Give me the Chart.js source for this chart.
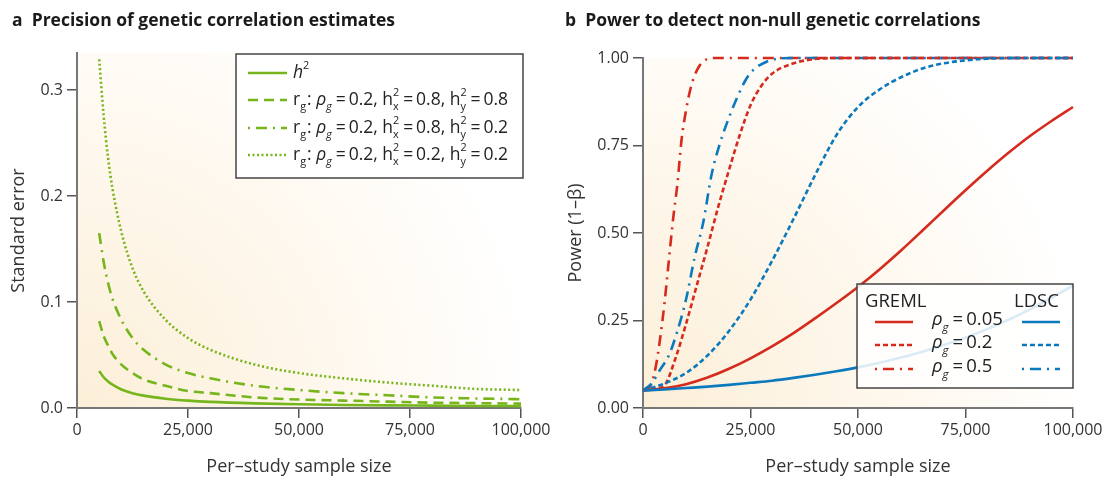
<!DOCTYPE html>
<html>
<head>
<meta charset="utf-8">
<script src="https://cdn.jsdelivr.net/npm/chart.js@4/dist/chart.umd.min.js"></script>
<style>
  body { margin: 0; background: #fff; width: 1108px; height: 478px; position: relative; overflow: hidden; }
  .panel { position: absolute; top: 0; width: 554px; height: 478px; }
  .title { position: absolute; top: 7px; font: bold 17.5px "Open Sans", sans-serif; color: #1a1a1a; white-space: pre; }
</style>
</head>
<body>
<div class="panel" style="left:0"><canvas id="chartA" width="554" height="478"></canvas></div>
<div class="panel" style="left:554px"><canvas id="chartB" width="554" height="478"></canvas></div>
<div class="title" style="left:12px">a  Precision of genetic correlation estimates</div>
<div class="title" style="left:565px">b  Power to detect non-null genetic correlations</div>
<script>
const FONT = '"Open Sans", sans-serif';

// panel a: standard error vs per-study sample size
const sampleSizeA = [5000, 6000, 7000, 8000, 10000, 12500, 15000, 20000, 25000, 30000, 40000, 50000, 60000, 70000, 80000, 90000, 100000];
const seH2 =        [0.035, 0.029, 0.025, 0.022, 0.0175, 0.014, 0.0117, 0.0088, 0.007, 0.0058, 0.0044, 0.0035, 0.0029, 0.0025, 0.0022, 0.0019, 0.0018];
const seRg88 =      [0.082, 0.068, 0.059, 0.051, 0.041, 0.033, 0.027, 0.021, 0.016, 0.014, 0.010, 0.008, 0.007, 0.006, 0.005, 0.0046, 0.0041];
const seRg82 =      [0.165, 0.138, 0.118, 0.103, 0.083, 0.066, 0.055, 0.041, 0.033, 0.028, 0.021, 0.017, 0.014, 0.012, 0.010, 0.009, 0.0083];
const seRg22 =      [0.329, 0.276, 0.236, 0.207, 0.166, 0.132, 0.110, 0.083, 0.066, 0.055, 0.041, 0.033, 0.028, 0.024, 0.021, 0.018, 0.017];
const yTicksA = [0, 0.1, 0.2, 0.3];

// panel b: power vs per-study sample size
const nSlow = [0, 5000, 10000, 15000, 20000, 25000, 30000, 35000, 40000, 45000, 50000, 55000, 60000, 65000, 70000, 75000, 80000, 85000, 90000, 95000, 100000];
const powGreml005 = [0.05, 0.056, 0.068, 0.087, 0.112, 0.142, 0.176, 0.214, 0.256, 0.3, 0.346, 0.396, 0.45, 0.507, 0.565, 0.622, 0.677, 0.729, 0.777, 0.82, 0.86];
const powLdsc005 =  [0.05, 0.053, 0.057, 0.061, 0.066, 0.072, 0.078, 0.086, 0.095, 0.105, 0.116, 0.129, 0.144, 0.161, 0.18, 0.201, 0.225, 0.252, 0.282, 0.315, 0.35];
const nGreml02 = [0, 2500, 5000, 7500, 10000, 12500, 15000, 17500, 20000, 22500, 25000, 27500, 30000, 35000, 40000, 45000, 100000];
const powGreml02 = [0.05, 0.055, 0.065, 0.14, 0.24, 0.35, 0.46, 0.575, 0.68, 0.78, 0.865, 0.92, 0.955, 0.985, 0.997, 1.0, 1.0];
const nGreml05 = [0, 2000, 3000, 4000, 5000, 6000, 7000, 8000, 9000, 10000, 11000, 12000, 13000, 14000, 16000, 100000];
const powGreml05 = [0.05, 0.07, 0.12, 0.2, 0.3, 0.42, 0.54, 0.64, 0.77, 0.85, 0.91, 0.95, 0.975, 0.99, 1.0, 1.0];
const nLdsc02 = [0, 5000, 10000, 15000, 20000, 25000, 30000, 35000, 40000, 45000, 50000, 55000, 60000, 65000, 70000, 75000, 80000, 90000, 100000];
const powLdsc02 = [0.05, 0.07, 0.1, 0.15, 0.22, 0.31, 0.42, 0.54, 0.665, 0.78, 0.86, 0.91, 0.945, 0.97, 0.985, 0.993, 0.998, 1.0, 1.0];
const nLdsc05 = [0, 2000, 4000, 6000, 8000, 10000, 12000, 14000, 16000, 18000, 20000, 22000, 24000, 26000, 28000, 30000, 35000, 100000];
const powLdsc05 = [0.05, 0.07, 0.11, 0.15, 0.22, 0.31, 0.43, 0.53, 0.67, 0.76, 0.83, 0.89, 0.94, 0.97, 0.985, 0.995, 1.0, 1.0];
const yTicksB = [0, 0.25, 0.5, 0.75, 1.0];
const xTicks = [0, 25000, 50000, 75000, 100000];

const GREEN = '#76b51b', RED = '#d52b1e', BLUE = '#0b79bd';

const pts = (xs, ys) => xs.map((x, i) => ({ x, y: ys[i] }));

function line(label, xs, ys, color, dash) {
  return {
    label, data: pts(xs, ys), borderColor: color, borderWidth: 2.6, borderDash: dash,
    pointRadius: 0, fill: false, cubicInterpolationMode: 'monotone', clip: false
  };
}

// text with sub/superscripts
function drawRich(ctx, x, y, parts, size) {
  ctx.textBaseline = 'middle';
  ctx.textAlign = 'left';
  for (const p of parts) {
    const it = p.it ? 'italic ' : '';
    if (p.t !== undefined) {
      ctx.font = `${it}${size}px ${FONT}`;
      ctx.fillText(p.t, x, y);
      x += ctx.measureText(p.t).width;
    } else {
      ctx.font = `${it}${size * 0.62}px ${FONT}`;
      let w = 0;
      if (p.sup) { ctx.fillText(p.sup, x, y - size * 0.38); w = Math.max(w, ctx.measureText(p.sup).width); }
      if (p.sub) { ctx.fillText(p.sub, x, y + size * 0.4); w = Math.max(w, ctx.measureText(p.sub).width); }
      x += w + 1;
    }
  }
}

function sample(ctx, x1, x2, y, color, dash) {
  ctx.save();
  ctx.strokeStyle = color;
  ctx.lineWidth = 2.6;
  ctx.setLineDash(dash || []);
  ctx.beginPath();
  ctx.moveTo(x1, y);
  ctx.lineTo(x2, y);
  ctx.stroke();
  ctx.restore();
}

const bgPlugin = {
  id: 'bg',
  beforeDraw(chart) {
    const { ctx, chartArea: { left, top, right, bottom } } = chart;
    const g = ctx.createRadialGradient(left, bottom, 0, left, bottom, Math.hypot(right - left, bottom - top) * 0.95);
    g.addColorStop(0, '#fcefd8');
    g.addColorStop(0.45, '#fef7ec');
    g.addColorStop(0.85, '#ffffff');
    ctx.save();
    ctx.fillStyle = g;
    ctx.fillRect(left, top, right - left, bottom - top);
    ctx.restore();
  }
};

const eq = '\u2009=\u2009';
const rgRow = (hx, hy) => [
  { t: 'r' }, { sub: 'g' }, { t: ': ' }, { t: 'ρ', it: true }, { sub: 'g', it: true },
  { t: eq + '0.2, h' }, { sup: '2', sub: 'x' }, { t: eq + hx + ', h' }, { sup: '2', sub: 'y' }, { t: eq + hy }
];

const legendA = {
  id: 'legendA',
  afterDraw(chart) {
    const ctx = chart.ctx;
    ctx.save();
    ctx.fillStyle = '#fff';
    ctx.strokeStyle = '#444';
    ctx.lineWidth = 1.5;
    ctx.fillRect(236, 54, 287, 124);
    ctx.strokeRect(236, 54, 287, 124);
    const rows = [
      { y: 73, dash: [], parts: [{ t: 'h', it: true }, { sup: '2' }] },
      { y: 100, dash: [10, 6], parts: rgRow('0.8', '0.8') },
      { y: 128, dash: [2, 6, 11, 6], parts: rgRow('0.8', '0.2') },
      { y: 155, dash: [2, 2.5], parts: rgRow('0.2', '0.2') }
    ];
    ctx.fillStyle = '#222';
    for (const r of rows) {
      sample(ctx, 248, 287, r.y, GREEN, r.dash);
      drawRich(ctx, 293, r.y, r.parts, 17.5);
    }
    ctx.restore();
  }
};

const legendB = {
  id: 'legendB',
  afterDraw(chart) {
    const ctx = chart.ctx;
    const ox = -554;
    ctx.save();
    ctx.fillStyle = 'rgba(255,255,255,0.85)';
    ctx.strokeStyle = '#444';
    ctx.lineWidth = 1.5;
    ctx.fillRect(857 + ox, 284, 216, 104);
    ctx.strokeRect(857 + ox, 284, 216, 104);
    ctx.fillStyle = '#222';
    ctx.font = `18.5px ${FONT}`;
    ctx.textBaseline = 'middle';
    ctx.fillText('GREML', 865 + ox, 302);
    ctx.fillText('LDSC', 1014 + ox, 302);
    const rows = [
      { y: 322, dash: [], v: '0.05' },
      { y: 345, dash: [5, 3], v: '0.2' },
      { y: 369, dash: [2, 6, 11, 6], v: '0.5' }
    ];
    for (const r of rows) {
      sample(ctx, 875 + ox, 913 + ox, r.y, RED, r.dash);
      sample(ctx, 1022 + ox, 1060 + ox, r.y, BLUE, r.dash);
      ctx.fillStyle = '#222';
      drawRich(ctx, 932 + ox, r.y - 2, [{ t: 'ρ', it: true }, { sub: 'g', it: true }, { t: eq + r.v }], 18.5);
    }
    ctx.restore();
  }
};

function scales(yTicks, yMax, yDigits, yTitle, yWidth) {
  return {
    x: {
      type: 'linear', min: 0, max: 100000,
      afterBuildTicks: s => { s.ticks = xTicks.map(v => ({ value: v })); },
      afterFit: s => { s.height = 70; },
      ticks: { color: '#333', font: { family: FONT, size: 16 }, padding: 3, maxRotation: 0,
        callback: v => v.toLocaleString('en-US') },
      grid: { drawOnChartArea: false, tickLength: 10, color: '#555', lineWidth: 1.5 },
      border: { color: '#777', width: 2 },
      title: { display: true, text: 'Per–study sample size', color: '#333', font: { family: FONT, size: 18 }, padding: { top: 6, bottom: 0 } }
    },
    y: {
      type: 'linear', min: 0, max: yMax,
      afterBuildTicks: s => { s.ticks = yTicks.map(v => ({ value: v })); },
      afterFit: s => { s.width = yWidth; },
      ticks: { color: '#333', font: { family: FONT, size: 16 }, padding: 4,
        callback: v => v.toFixed(yDigits) },
      grid: { drawOnChartArea: false, tickLength: 10, color: '#555', lineWidth: 1.5 },
      border: { color: '#777', width: 2 },
      title: { display: true, text: yTitle, color: '#333', font: { family: FONT, size: 18 }, padding: { top: 2, bottom: 4 } }
    }
  };
}

const baseOptions = {
  responsive: false,
  animation: false,
  plugins: { legend: { display: false }, tooltip: { enabled: false } }
};

new Chart(document.getElementById('chartA'), {
  type: 'line',
  data: {
    datasets: [
      line('h2', sampleSizeA, seH2, GREEN, []),
      line('rg 0.8/0.8', sampleSizeA, seRg88, GREEN, [10, 6]),
      line('rg 0.8/0.2', sampleSizeA, seRg82, GREEN, [11, 6, 2, 6]),
      line('rg 0.2/0.2', sampleSizeA, seRg22, GREEN, [2, 2.5])
    ]
  },
  options: {
    ...baseOptions,
    layout: { padding: { top: 53, right: 33, left: 6, bottom: 0 } },
    scales: scales(yTicksA, 0.335, 1, 'Standard error', 71)
  },
  plugins: [bgPlugin, legendA]
});

new Chart(document.getElementById('chartB'), {
  type: 'line',
  data: {
    datasets: [
      line('LDSC 0.05', nSlow, powLdsc005, BLUE, []),
      line('GREML 0.05', nSlow, powGreml005, RED, []),
      line('LDSC 0.2', nLdsc02, powLdsc02, BLUE, [5, 3]),
      line('GREML 0.2', nGreml02, powGreml02, RED, [5, 3]),
      line('LDSC 0.5', nLdsc05, powLdsc05, BLUE, [11, 6, 2, 6]),
      line('GREML 0.5', nGreml05, powGreml05, RED, [11, 6, 2, 6])
    ]
  },
  options: {
    ...baseOptions,
    layout: { padding: { top: 58, right: 35, left: 9, bottom: 0 } },
    scales: scales(yTicksB, 1.0, 2, 'Power (1–β)', 80)
  },
  plugins: [bgPlugin, legendB]
});
</script>
</body>
</html>
